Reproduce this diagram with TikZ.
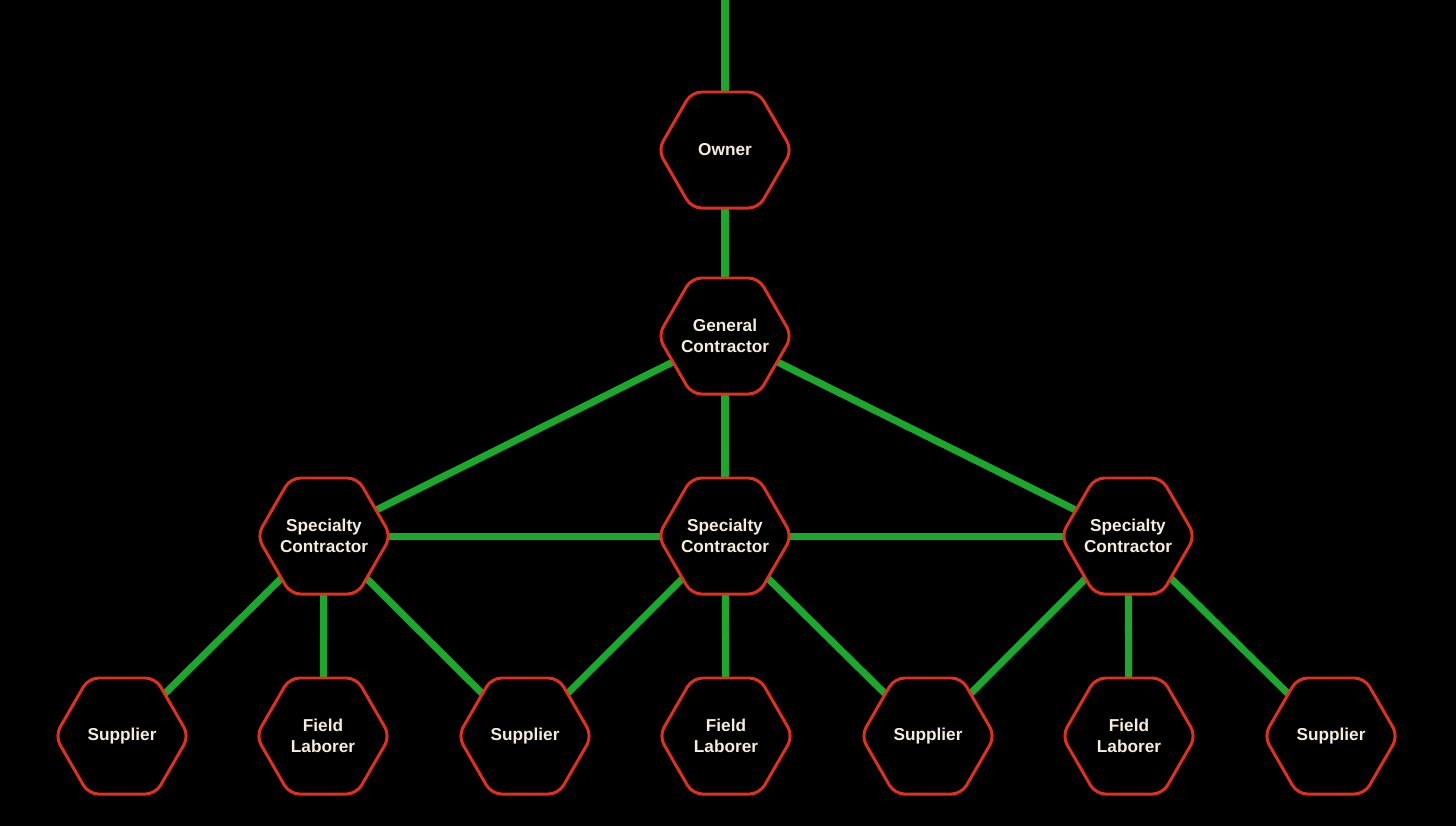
\documentclass[tikz,border=0pt]{standalone}
\usepackage{fontspec}
\setmainfont{Liberation Sans}
\usetikzlibrary{shapes.geometric}
\usetikzlibrary{backgrounds}
\definecolor{hexred}{RGB}{226,48,28}
\definecolor{linkgreen}{RGB}{28,168,44}
\definecolor{labelcream}{RGB}{245,236,220}
\begin{document}
\begin{tikzpicture}[x=0.02cm,y=-0.02cm,
  hex/.style={regular polygon, regular polygon sides=6, draw=hexred, line width=1.7pt, fill=black, minimum size=2.68cm, inner sep=-8pt, rounded corners=0.2cm, text=labelcream, font=\fontsize{9.8}{12}\selectfont\bfseries, align=center},
  link/.style={draw=linkgreen, line width=4pt}]
\useasboundingbox (0,0) rectangle (1456,826);
\node (O) at (725,150) [hex] {Owner};
\node (G) at (725,336) [hex] {General\\Contractor};
\node (S1) at (324,536) [hex] {Specialty\\Contractor};
\node (S2) at (725,536) [hex] {Specialty\\Contractor};
\node (S3) at (1128,536) [hex] {Specialty\\Contractor};
\node (P1) at (122,736) [hex] {Supplier};
\node (F1) at (323,736) [hex] {Field\\Laborer};
\node (P2) at (525,736) [hex] {Supplier};
\node (F2) at (726,736) [hex] {Field\\Laborer};
\node (P3) at (928,736) [hex] {Supplier};
\node (F3) at (1129,736) [hex] {Field\\Laborer};
\node (P4) at (1331,736) [hex] {Supplier};
\coordinate (T) at (725,0);
\begin{scope}[on background layer]
\fill[black] (0,0) rectangle (1456,826);
\draw [link] (T) -- (O.center);
\draw [link] (O.center) -- (G.center);
\draw [link] (G.center) -- (S1.center);
\draw [link] (G.center) -- (S2.center);
\draw [link] (G.center) -- (S3.center);
\draw [link] (S1.center) -- (S2.center) -- (S3.center);
\draw [link] (S1.center) -- (P1.center);
\draw [link] (S1.center) -- (F1.center);
\draw [link] (S1.center) -- (P2.center);
\draw [link] (S2.center) -- (P2.center);
\draw [link] (S2.center) -- (F2.center);
\draw [link] (S2.center) -- (P3.center);
\draw [link] (S3.center) -- (P3.center);
\draw [link] (S3.center) -- (F3.center);
\draw [link] (S3.center) -- (P4.center);
\end{scope}
\end{tikzpicture}
\end{document}
